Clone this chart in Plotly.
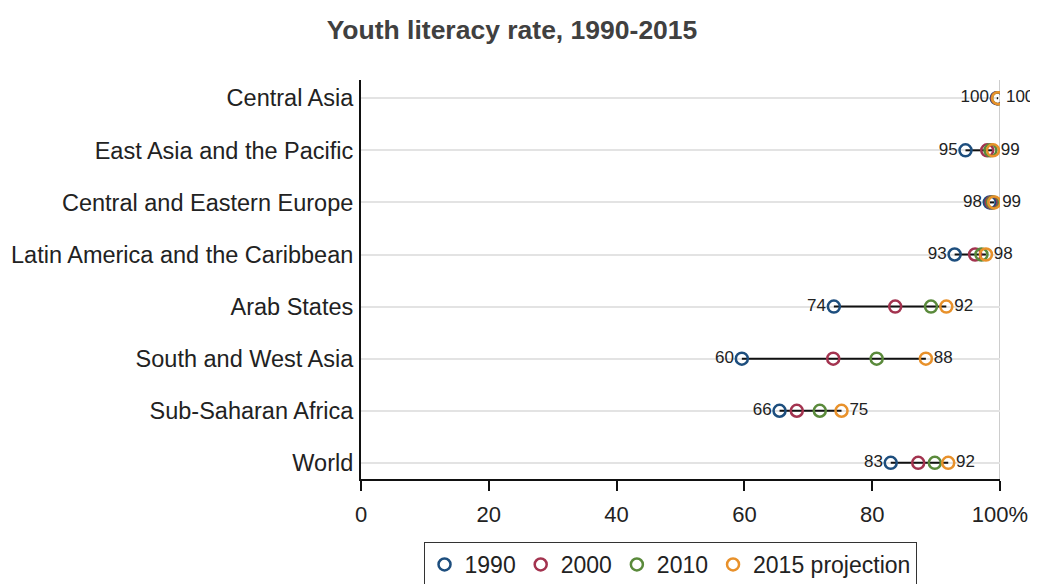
import plotly.graph_objects as go

regions = ["Central Asia", "East Asia and the Pacific", "Central and Eastern Europe",
           "Latin America and the Caribbean", "Arab States", "South and West Asia",
           "Sub-Saharan Africa", "World"]
v1990 = [99.5, 94.6, 98.4, 92.9, 74.0, 59.6, 65.5, 82.9]
v2000 = [99.6, 98.0, 98.7, 96.1, 83.6, 73.9, 68.2, 87.2]
v2010 = [99.7, 98.5, 98.9, 97.1, 89.2, 80.7, 71.8, 89.8]
v2015 = [99.7, 98.9, 99.1, 97.8, 91.6, 88.4, 75.2, 91.9]
left_labels = ["100", "95", "98", "93", "74", "60", "66", "83"]
right_labels = ["100", "99", "99", "98", "92", "88", "75", "92"]
series_names = ["1990", "2000", "2010", "2015 projection"]
colors = ["#1d4e7e", "#a3334f", "#5a8a3b", "#e8912b"]
tick_vals = [0, 20, 40, 60, 80, 100]
tick_text = ["0", "20", "40", "60", "80", "100%"]

FONT = "Liberation Sans, Arial, sans-serif"
fig = go.Figure()

# connector lines
lx, ly = [], []
for r, a, b in zip(regions, v1990, v2015):
    lx += [a, b, None]
    ly += [r, r, None]
fig.add_trace(go.Scatter(x=lx, y=ly, mode="lines", line=dict(color="#111111", width=2),
                         showlegend=False, hoverinfo="skip"))

for name, vals, col in zip(series_names, [v1990, v2000, v2010, v2015], colors):
    fig.add_trace(go.Scatter(x=vals, y=regions, mode="markers", name=name,
                             marker=dict(symbol="circle-open", size=12, color=col,
                                         line=dict(width=2.5, color=col))))

for vals, labs, pos in [(v1990, left_labels, "middle left"), (v2015, right_labels, "middle right")]:
    fig.add_trace(go.Scatter(x=vals, y=regions, mode="markers+text", text=labs,
                             textposition=pos, showlegend=False, cliponaxis=False,
                             hoverinfo="skip",
                             marker=dict(size=11, color="rgba(0,0,0,0)"),
                             textfont=dict(size=17, color="#222222", family=FONT)))

fig.add_shape(type="line", xref="x", yref="paper", x0=100, x1=100, y0=0, y1=1,
              line=dict(color="#bdbdbd", width=1.5), layer="below")

# page body adds an 8px offset: figure is sized/margined to compensate
fig.update_layout(
    width=1030, height=576,
    margin=dict(l=353, r=38, t=72, b=105, autoexpand=False),
    paper_bgcolor="white", plot_bgcolor="white",
    font=dict(family=FONT, color="#222222"),
    title=dict(text="<b>Youth literacy rate, 1990-2015</b>", x=0.4893, xref="container",
               xanchor="center", y=1 - 22 / 576, yanchor="middle", yref="container",
               font=dict(size=26.5, color="#404040", family=FONT)),
    xaxis=dict(range=[0, 100], tickvals=tick_vals, ticktext=tick_text, automargin=False,
               showgrid=False, zeroline=False, showline=True, linecolor="#111111",
               linewidth=2, ticks="outside", ticklen=10, tickwidth=1.5, tickcolor="#111111",
               ticklabelstandoff=5, tickfont=dict(size=22, color="#222222")),
    yaxis=dict(categoryorder="array", categoryarray=regions[::-1], range=[-0.31, 7.35],
               automargin=False,
               showgrid=True, gridcolor="#e3e3e3", gridwidth=1.5, showline=True,
               linecolor="#111111", linewidth=2, ticks="", ticklabelstandoff=1,
               tickfont=dict(size=23.5, color="#222222")),
    legend=dict(orientation="h", x=0.4836, xanchor="center", y=-0.158, yanchor="top",
                bordercolor="#333333", borderwidth=1, bgcolor="white",
                font=dict(size=23, color="#222222"), itemwidth=30),
)

fig.write_html("out.html")
